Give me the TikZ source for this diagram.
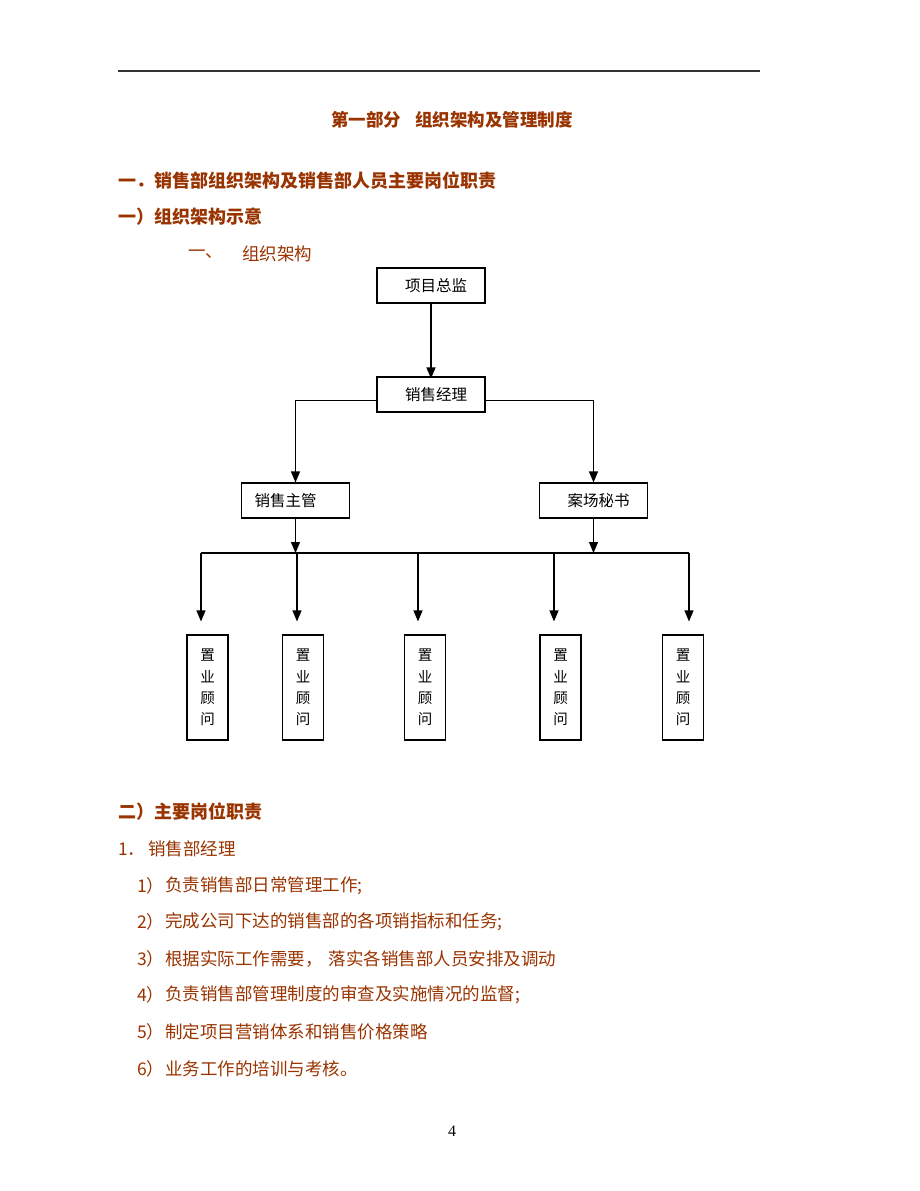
\documentclass[tikz,border=0pt]{standalone}
\usepackage{fontspec}
\setmainfont{Liberation Serif}
\newfontfamily\cjk{Noto Sans CJK SC}
\usepackage{tikz}
\usetikzlibrary{arrows.meta}
\definecolor{brn}{RGB}{153,51,0}

\begin{document}
\begin{tikzpicture}[
    x=1pt,y=-1pt,
    every node/.style={inner sep=0pt},
    hd/.style={anchor=west,text=brn,font=\cjk\bfseries\fontsize{18}{20}\selectfont},
    tx/.style={anchor=west,text=brn,font=\cjk\fontsize{17.5}{20}\selectfont},
    box/.style={draw,line width=1.1pt,minimum width=108,minimum height=35,font=\cjk\fontsize{15.5}{18}\selectfont},
    gwbox/.style={draw,line width=1.1pt,minimum width=41,minimum height=105,align=center,font=\cjk\fontsize{14.5}{21.3}\selectfont},
    arr/.style={-{Triangle[width=9pt,length=11pt]},line width=1.2pt},
]
    \useasboundingbox (0,0) rectangle (920,1191);
    \coordinate (ra) at (118,71);
    \coordinate (rb) at (760,71);
    \draw[line width=1.2pt,black!80] (ra) -- (rb);
    \node[text=brn,font=\cjk\bfseries\fontsize{17.5}{20}\selectfont] (tt) at (452,120) {第一部分\hspace{0.8em}组织架构及管理制度};
    \node[hd] (h1) at (118,181) {一．销售部组织架构及销售部人员主要岗位职责};
    \node[hd] (h2) at (118,217) {一）组织架构示意};
    \node[tx] (h3) at (188,254) {一、};
    \node[tx] (h3t) at (242,254) {组织架构};

    \node[box] (zj) at (431,285.5) {\hspace*{10pt}项目总监};
    \node[box] (jl) at (431,394.5) {\hspace*{10pt}销售经理};
    \node[box] (zg) at (295.5,500.5) {销售主管\hspace*{20pt}};
    \node[box] (ms) at (593.5,500.5) {\hspace*{10pt}案场秘书};
    \draw[arr] (zj.south) -- ([yshift=-2pt]jl.north);
    \draw[arr] ([yshift=-6pt]jl.west) -| (zg.north);
    \draw[arr] ([yshift=-6pt]jl.east) -| (ms.north);

    \coordinate (b1) at (201,553);
    \coordinate (b2) at (297,553);
    \coordinate (b3) at (418,553);
    \coordinate (b4) at (554,553);
    \coordinate (b5) at (689,553);
    \draw[line width=1.2pt] (b1) -- (b5);
    \draw[arr] (zg.south) -- (zg.south |- b2);
    \draw[arr] (ms.south) -- (ms.south |- b4);

    \node[gwbox] (gw1) at (207.5,687.5) {置\\业\\顾\\问};
    \node[gwbox] (gw2) at (303,687.5) {置\\业\\顾\\问};
    \node[gwbox] (gw3) at (425,687.5) {置\\业\\顾\\问};
    \node[gwbox] (gw4) at (560.5,687.5) {置\\业\\顾\\问};
    \node[gwbox] (gw5) at (683,687.5) {置\\业\\顾\\问};
    \draw[arr,shorten >=13pt] (b1) -- (b1 |- gw1.north);
    \draw[arr,shorten >=13pt] (b2) -- (b2 |- gw2.north);
    \draw[arr,shorten >=13pt] (b3) -- (b3 |- gw3.north);
    \draw[arr,shorten >=13pt] (b4) -- (b4 |- gw4.north);
    \draw[arr,shorten >=13pt] (b5) -- (b5 |- gw5.north);

    \node[hd] (h4) at (118,812) {二）主要岗位职责};
    \node[tx] (h5) at (118,849) {1．\hspace{3pt}销售部经理};
    \node[tx] (n1) at (137,886) {1）};
    \node[tx] (t1) at (165,886) {负责销售部日常管理工作;};
    \node[tx] (n2) at (137,922) {2）};
    \node[tx] (t2) at (165,922) {完成公司下达的销售部的各项销指标和任务;};
    \node[tx] (n3) at (137,959) {3）};
    \node[tx] (t3) at (165,959) {根据实际工作需要，\hspace{6pt}落实各销售部人员安排及调动};
    \node[tx] (n4) at (137,995) {4）};
    \node[tx] (t4) at (165,995) {负责销售部管理制度的审查及实施情况的监督;};
    \node[tx] (n5) at (137,1032) {5）};
    \node[tx] (t5) at (165,1032) {制定项目营销体系和销售价格策略};
    \node[tx] (n6) at (137,1069) {6）};
    \node[tx] (t6) at (165,1069) {业务工作的培训与考核。};

    \node[font=\fontsize{16}{18}\selectfont] (pg) at (452,1131) {4};
\end{tikzpicture}
\end{document}
